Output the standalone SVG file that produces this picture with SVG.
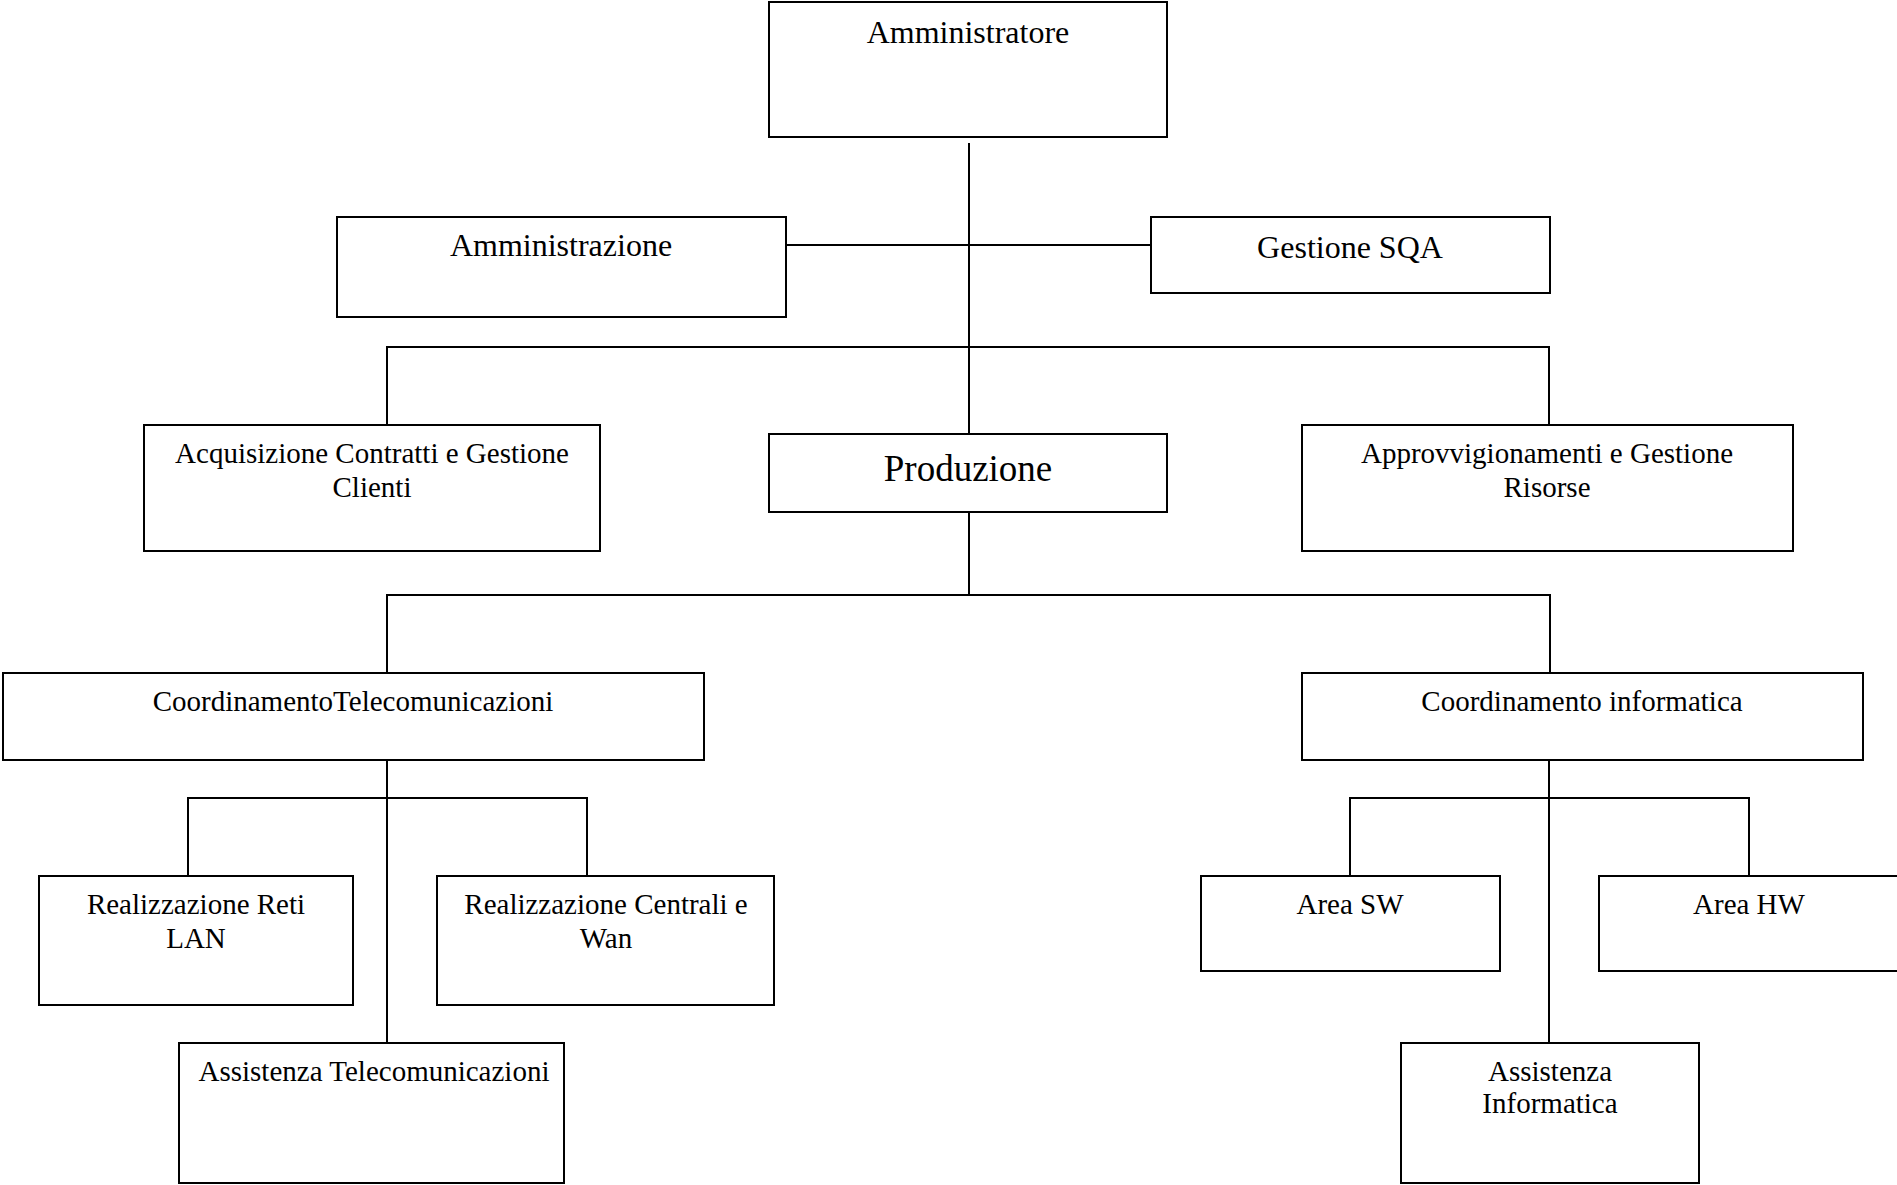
<svg xmlns="http://www.w3.org/2000/svg" width="1897" height="1185" viewBox="0 0 1897 1185">
<style>
.box{fill:#fff;stroke:#000;stroke-width:2}
.ln{fill:none;stroke:#000;stroke-width:2}
text{font-family:"Liberation Serif","Times New Roman",serif;fill:#000;text-anchor:middle}
.t32{font-size:32px}
.t29{font-size:29px}
.t37{font-size:37px}
</style>
<rect width="1897" height="1185" fill="#fff"/>
<g id="connectors">
<path class="ln" d="M969 143 V434"/>
<path class="ln" d="M786 245 H1151"/>
<path class="ln" d="M387 425 V347 H1549 V425"/>
<path class="ln" d="M969 512 V595"/>
<path class="ln" d="M387 673 V595 H1550 V673"/>
<path class="ln" d="M387 760 V1043"/>
<path class="ln" d="M1549 760 V1043"/>
<path class="ln" d="M188 876 V798 H587 V876"/>
<path class="ln" d="M1350 876 V798 H1749 V876"/>
</g>
<g id="amministratore"><rect class="box" x="769" y="2" width="398" height="135"/><text class="t32" x="968" y="43">Amministratore</text></g>
<g id="amministrazione"><rect class="box" x="337" y="217" width="449" height="100"/><text class="t32" x="561" y="256">Amministrazione</text></g>
<g id="gestione-sqa"><rect class="box" x="1151" y="217" width="399" height="76"/><text class="t32" x="1350" y="258">Gestione SQA</text></g>
<g id="acquisizione"><rect class="box" x="144" y="425" width="456" height="126"/><text class="t29" x="372" y="463">Acquisizione Contratti e Gestione</text><text class="t29" x="372" y="497">Clienti</text></g>
<g id="produzione"><rect class="box" x="769" y="434" width="398" height="78"/><text class="t37" x="968" y="481">Produzione</text></g>
<g id="approvvigionamenti"><rect class="box" x="1302" y="425" width="491" height="126"/><text class="t29" x="1547" y="463">Approvvigionamenti e Gestione</text><text class="t29" x="1547" y="497">Risorse</text></g>
<g id="coord-tele"><rect class="box" x="3" y="673" width="701" height="87"/><text class="t29" x="353" y="711">CoordinamentoTelecomunicazioni</text></g>
<g id="coord-info"><rect class="box" x="1302" y="673" width="561" height="87"/><text class="t29" x="1582" y="711">Coordinamento informatica</text></g>
<g id="reti-lan"><rect class="box" x="39" y="876" width="314" height="129"/><text class="t29" x="196" y="914">Realizzazione Reti</text><text class="t29" x="196" y="948">LAN</text></g>
<g id="centrali-wan"><rect class="box" x="437" y="876" width="337" height="129"/><text class="t29" x="606" y="914">Realizzazione Centrali e</text><text class="t29" x="606" y="948">Wan</text></g>
<g id="area-sw"><rect class="box" x="1201" y="876" width="299" height="95"/><text class="t29" x="1350" y="914">Area SW</text></g>
<g id="area-hw"><rect class="box" x="1599" y="876" width="300" height="95"/><text class="t29" x="1749" y="914">Area HW</text></g>
<g id="assistenza-tele"><rect class="box" x="179" y="1043" width="385" height="140"/><text class="t29" x="374" y="1081">Assistenza Telecomunicazioni</text></g>
<g id="assistenza-info"><rect class="box" x="1401" y="1043" width="298" height="140"/><text class="t29" x="1550" y="1081">Assistenza</text><text class="t29" x="1550" y="1113">Informatica</text></g>
</svg>
